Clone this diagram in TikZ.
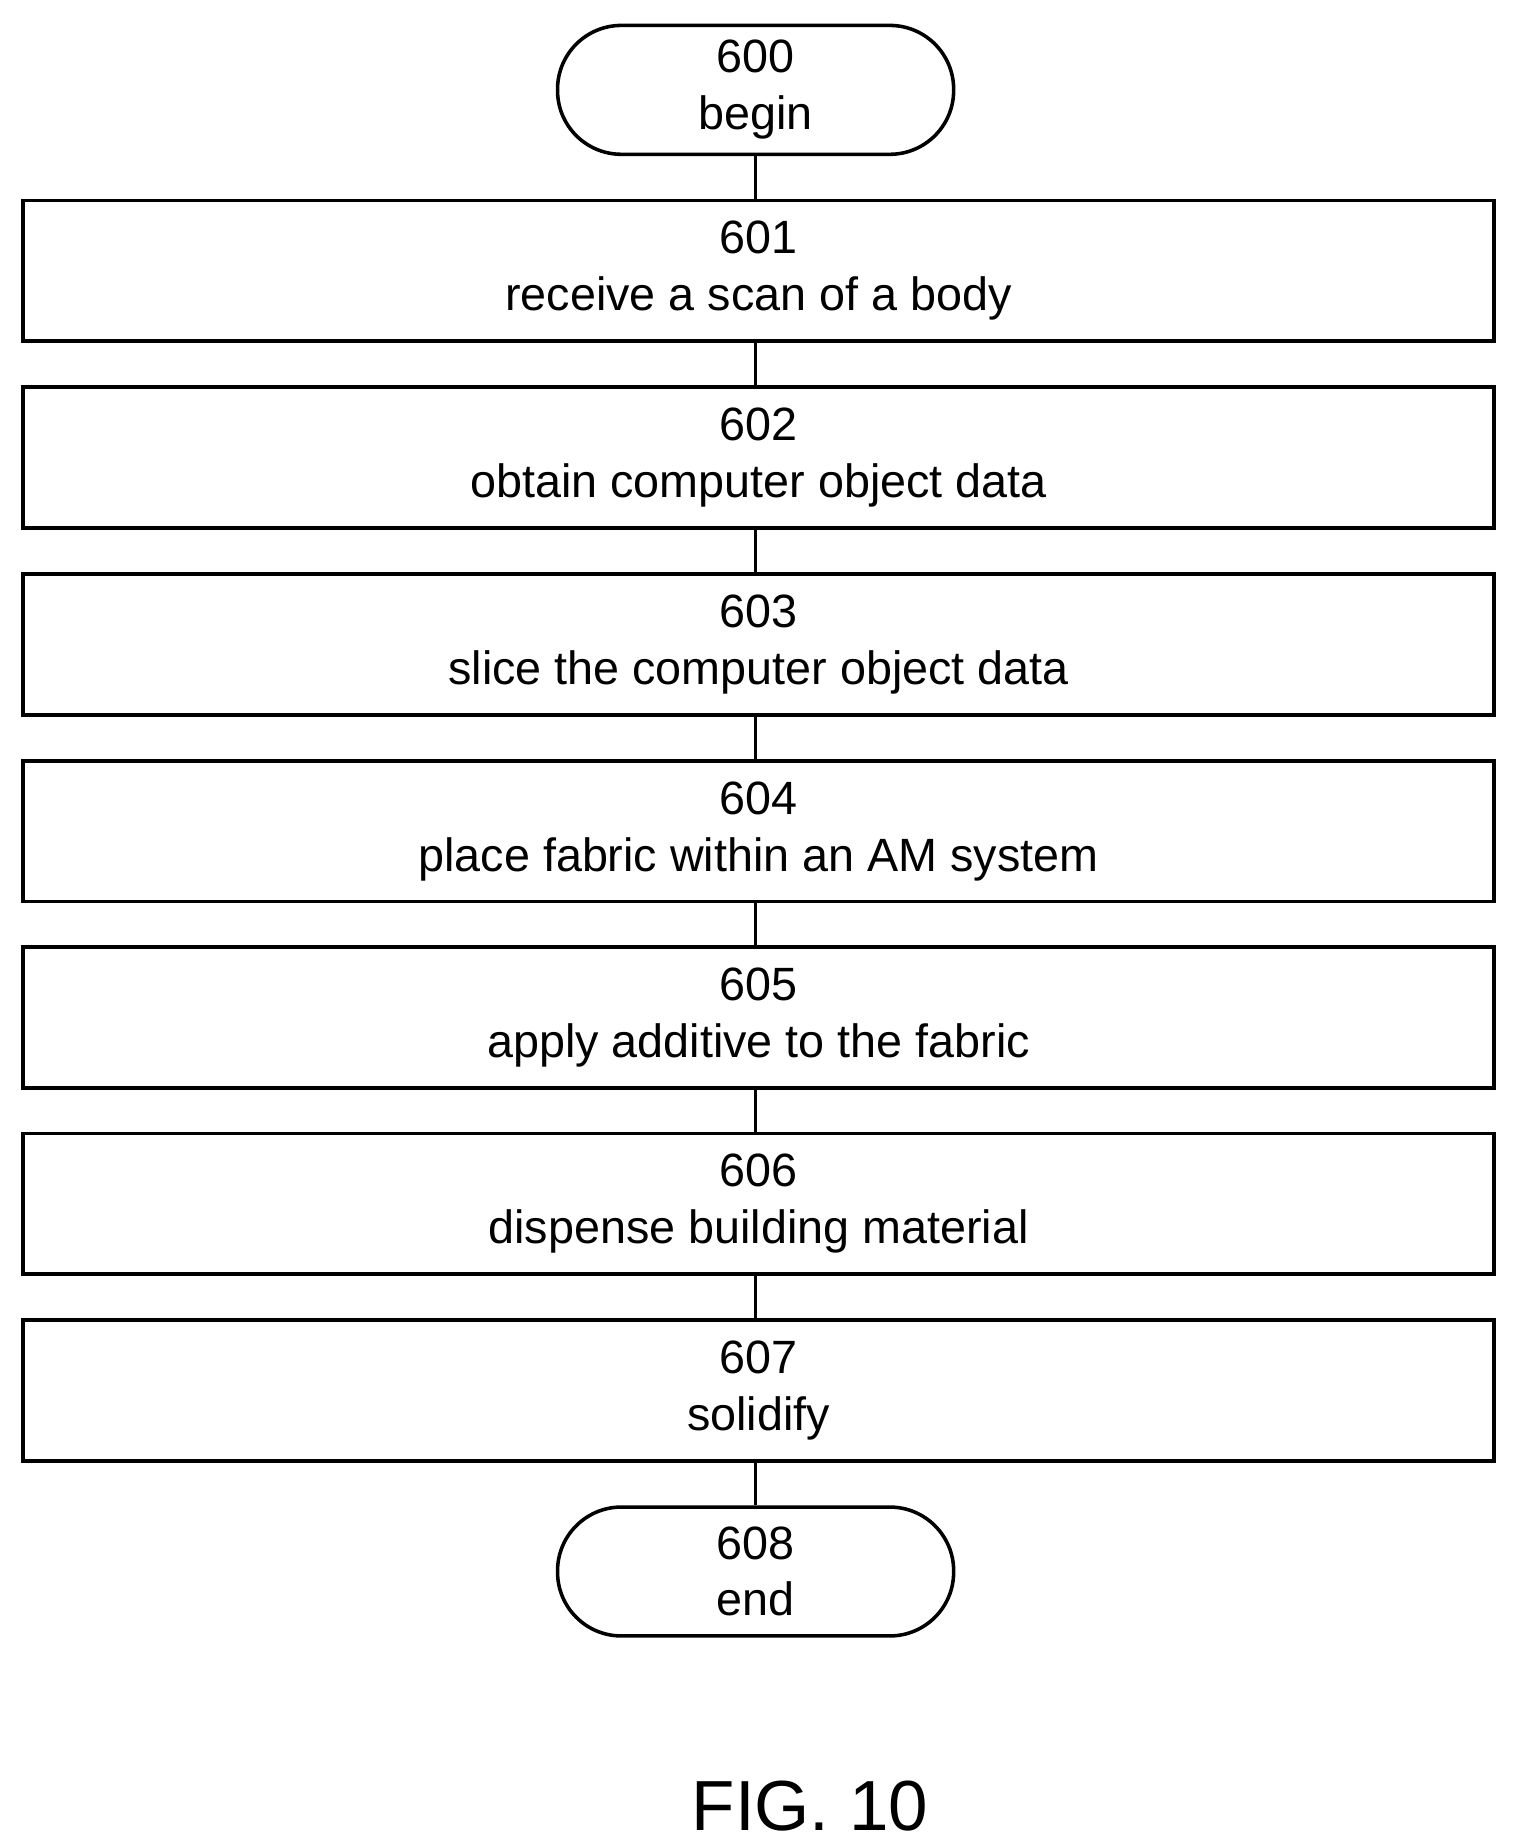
\documentclass[tikz,border=0pt]{standalone}
\usepackage{fontspec}
\setmainfont{Liberation Sans}
\begin{document}
\begin{tikzpicture}[x=1pt,y=-1pt,
  box/.style={draw,line width=3pt,minimum width=1244pt,minimum height=119pt,align=center,font=\fontsize{39.5}{48}\selectfont,inner sep=0pt},
  term/.style={draw,line width=3pt,rounded corners=54pt,minimum width=335pt,minimum height=109pt,align=center,font=\fontsize{39.5}{48}\selectfont,inner sep=0pt},
  con/.style={line width=3pt}]
\useasboundingbox (0,0) rectangle (1280,1562);
\node[term] (n600) at (639,76) {600\\begin};
\node[box] (n601) at (641.5,229) {601\\receive a scan of a body};
\node[box] (n602) at (641.5,387) {602\\obtain computer object data};
\node[box] (n603) at (641.5,545) {603\\slice the computer object data};
\node[box] (n604) at (641.5,703) {604\\place fabric within an AM system};
\node[box] (n605) at (641.5,860.5) {605\\apply additive to the fabric};
\node[box] (n606) at (641.5,1018) {606\\dispense building material};
\node[box] (n607) at (641.5,1176) {607\\solidify};
\node[term] (n608) at (639,1329) {608\\end};
\foreach \a/\b in {n600/n601,n601/n602,n602/n603,n603/n604,n604/n605,n605/n606,n606/n607,n607/n608}
  \draw[con] (\a.south -| 639,0) -- (\b.north -| 639,0);
\node[font=\fontsize{60}{70}\selectfont] (fig) at (685,1527) {FIG. 10};
\end{tikzpicture}
\end{document}
